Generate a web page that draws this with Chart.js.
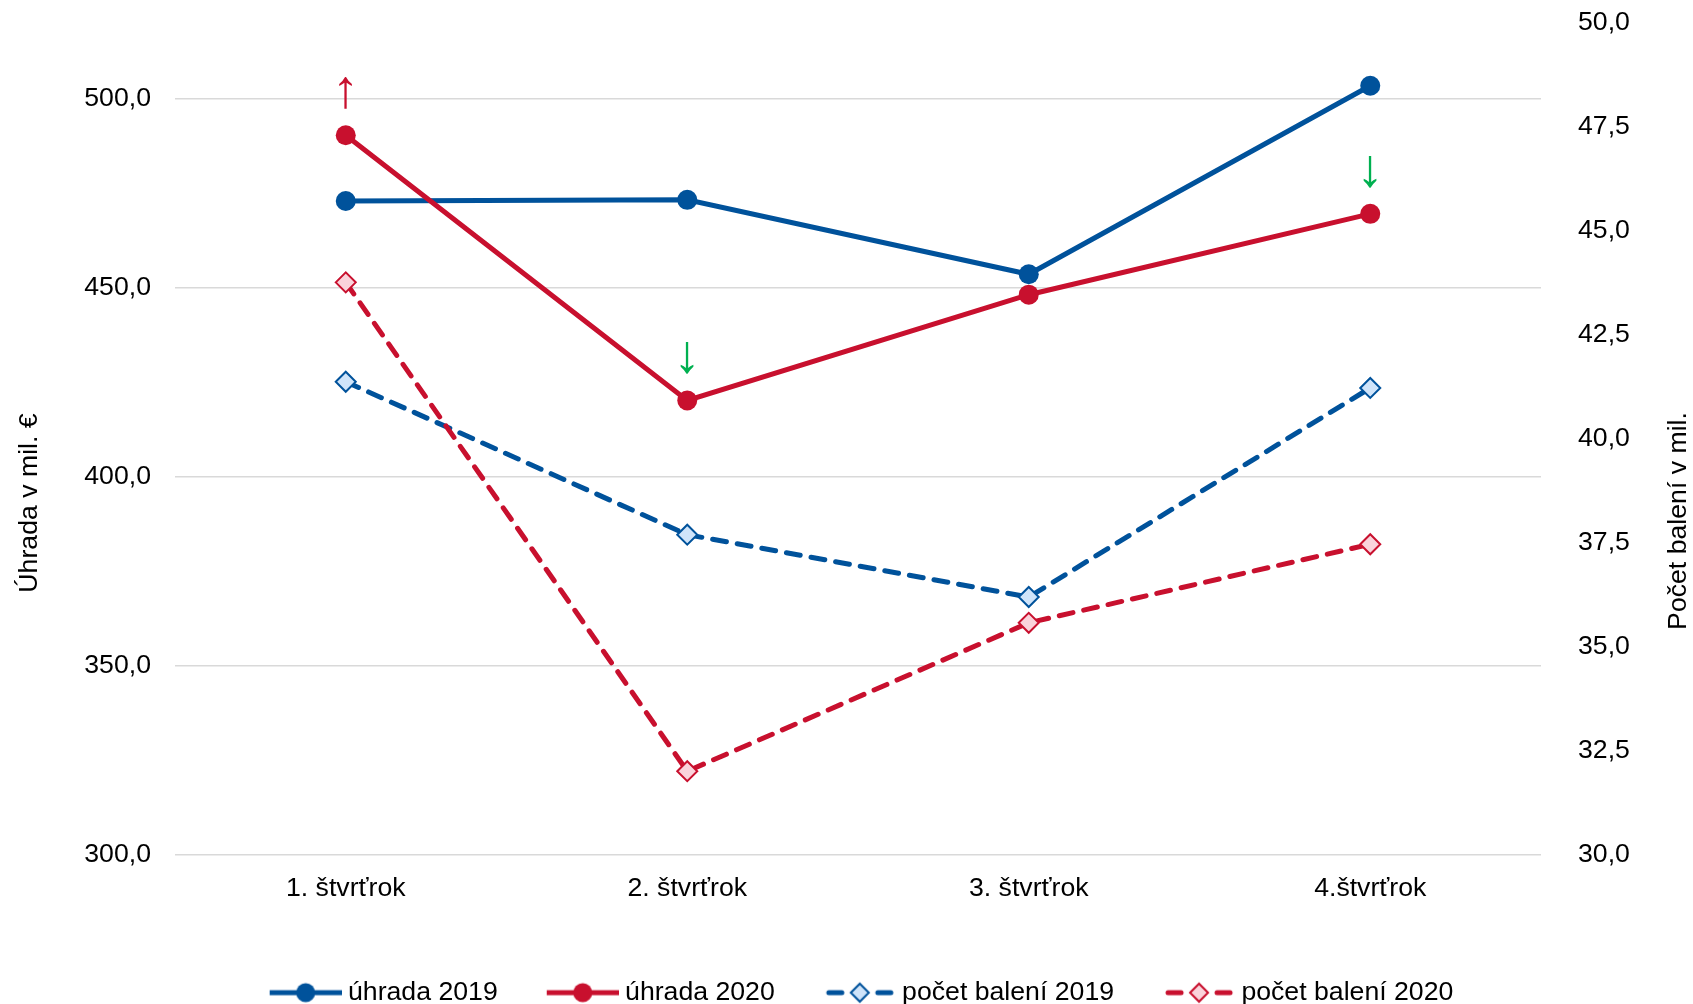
<!DOCTYPE html>
<html>
<head>
<meta charset="utf-8">
<script src="https://cdn.jsdelivr.net/npm/chart.js@4/dist/chart.umd.min.js"></script>
<style>
  html, body { margin: 0; padding: 0; background: #ffffff; }
  #wrap { position: relative; width: 1693px; height: 1004px; }
</style>
</head>
<body>
<div id="wrap"><canvas id="c" width="1693" height="1004"></canvas></div>
<script>
// ---- data ----
const categories = ['1. štvrťrok', '2. štvrťrok', '3. štvrťrok', '4.štvrťrok'];
const seriesNames = ['úhrada 2019', 'úhrada 2020', 'počet balení 2019', 'počet balení 2020'];
const uhrada2019 = [472.9, 473.2, 453.5, 503.4];
const uhrada2020 = [490.3, 420.1, 448.1, 469.5];
const pocet2019 = [41.37, 37.69, 36.19, 41.22];
const pocet2020 = [43.76, 32.0, 35.57, 37.46];
const leftAxisTitle = 'Úhrada v mil. €';
const rightAxisTitle = 'Počet balení v mil.';
const leftMin = 300, leftMax = 520, leftStep = 50;
const rightMin = 30, rightMax = 50, rightStep = 2.5;
// change arrows placed above the "úhrada 2020" points
const arrowIndices = [0, 1, 3];
const arrowSymbols = ['↑', '↓', '↓'];
const arrowKinds = ['up', 'down', 'down'];

// ---- styles ----
const BLUE = '#00529b';
const RED = '#c8102e';
const BLUE_LIGHT = '#cfe4fa';
const RED_LIGHT = '#fad3db';
const GREEN = '#00b050';
const FONT = '"Liberation Sans", Arial, sans-serif';
const FS = 26.67;
const ICON_BOX = 95;

function makeIcon(color, fill, dashed) {
  const c = document.createElement('canvas');
  c.width = ICON_BOX + 14; c.height = 28;
  const g = c.getContext('2d');
  const x0 = c.width - 72;
  const cx = x0 + 36, cy = 14;
  g.strokeStyle = color;
  g.lineWidth = 5;
  if (!dashed) {
    g.beginPath(); g.moveTo(x0, cy); g.lineTo(x0 + 72, cy); g.stroke();
    g.fillStyle = color;
    g.beginPath(); g.arc(cx, cy, 9.5, 0, Math.PI * 2); g.fill();
  } else {
    g.lineCap = 'round';
    g.beginPath(); g.moveTo(x0 + 5, cy); g.lineTo(x0 + 18, cy); g.stroke();
    g.beginPath(); g.moveTo(x0 + 54, cy); g.lineTo(x0 + 67, cy); g.stroke();
    g.fillStyle = fill;
    g.lineWidth = 2;
    g.beginPath();
    g.moveTo(cx - 9, cy); g.lineTo(cx, cy - 9); g.lineTo(cx + 9, cy); g.lineTo(cx, cy + 9); g.closePath();
    g.fill(); g.stroke();
  }
  return c;
}
const legendIcons = [
  makeIcon(BLUE, null, false),
  makeIcon(RED, null, false),
  makeIcon(BLUE, BLUE_LIGHT, true),
  makeIcon(RED, RED_LIGHT, true)
];

const fmt = v => Number(v).toFixed(1).replace('.', ',');

const extrasPlugin = {
  id: 'extras',
  afterDatasetsDraw(chart) {
    const ctx = chart.ctx;
    const meta = chart.getDatasetMeta(1);
    ctx.save();
    ctx.font = '54px ' + FONT;
    ctx.textAlign = 'center';
    ctx.textBaseline = 'middle';
    arrowIndices.forEach((idx, k) => {
      const el = meta.data[idx];
      ctx.fillStyle = arrowKinds[k] === 'up' ? RED : GREEN;
      ctx.fillText(arrowSymbols[k], el.x, el.y - 43);
    });
    ctx.restore();
  },
  afterDraw(chart) {
    const ctx = chart.ctx;
    ctx.save();
    ctx.font = FS + 'px ' + FONT;
    ctx.fillStyle = '#000000';
    ctx.textAlign = 'center';
    ctx.textBaseline = 'middle';
    ctx.translate(30, 503);
    ctx.rotate(-Math.PI / 2);
    ctx.fillText(leftAxisTitle, 0, 0);
    ctx.restore();
    ctx.save();
    ctx.font = FS + 'px ' + FONT;
    ctx.fillStyle = '#000000';
    ctx.textAlign = 'center';
    ctx.textBaseline = 'middle';
    ctx.translate(chart.width - 14, 521);
    ctx.rotate(-Math.PI / 2);
    ctx.fillText(rightAxisTitle, 0, 0);
    ctx.restore();
  }
};

new Chart(document.getElementById('c'), {
  type: 'line',
  data: {
    labels: categories,
    datasets: [
      {
        label: seriesNames[0], data: uhrada2019, yAxisID: 'y',
        borderColor: BLUE, backgroundColor: BLUE, borderWidth: 5,
        pointStyle: 'circle', pointRadius: 10, pointBackgroundColor: BLUE, pointBorderColor: BLUE, pointBorderWidth: 0,
        tension: 0, order: 1
      },
      {
        label: seriesNames[1], data: uhrada2020, yAxisID: 'y',
        borderColor: RED, backgroundColor: RED, borderWidth: 5,
        pointStyle: 'circle', pointRadius: 10, pointBackgroundColor: RED, pointBorderColor: RED, pointBorderWidth: 0,
        tension: 0, order: 0
      },
      {
        label: seriesNames[2], data: pocet2019, yAxisID: 'y1',
        borderColor: BLUE, backgroundColor: BLUE_LIGHT, borderWidth: 5,
        borderDash: [14, 11], borderCapStyle: 'round',
        pointStyle: 'rectRot', pointRadius: 10, pointBackgroundColor: BLUE_LIGHT, pointBorderColor: BLUE, pointBorderWidth: 2,
        tension: 0, order: 3
      },
      {
        label: seriesNames[3], data: pocet2020, yAxisID: 'y1',
        borderColor: RED, backgroundColor: RED_LIGHT, borderWidth: 5,
        borderDash: [14, 11], borderCapStyle: 'round',
        pointStyle: 'rectRot', pointRadius: 10, pointBackgroundColor: RED_LIGHT, pointBorderColor: RED, pointBorderWidth: 2,
        tension: 0, order: 2
      }
    ]
  },
  options: {
    responsive: false,
    animation: false,
    devicePixelRatio: 1,
    layout: { padding: { top: 0, bottom: -12, left: 0, right: 0 } },
    plugins: {
      tooltip: { enabled: false },
      legend: {
        display: true,
        position: 'bottom',
        fullSize: true,
        labels: {
          usePointStyle: true,
          pointStyleWidth: ICON_BOX,
          padding: 19,
          color: '#000000',
          font: { family: FONT, size: FS },
          generateLabels: (chart) => chart.data.datasets.map((ds, i) => ({
            text: ds.label,
            pointStyle: legendIcons[i],
            fillStyle: 'rgba(0,0,0,0)',
            strokeStyle: 'rgba(0,0,0,0)',
            lineWidth: 0,
            hidden: !chart.isDatasetVisible(i),
            datasetIndex: i,
            fontColor: '#000000'
          }))
        }
      }
    },
    scales: {
      x: {
        grid: { display: false },
        border: { display: false },
        offset: true,
        ticks: { color: '#000000', font: { family: FONT, size: FS }, padding: 10, maxRotation: 0 },
        afterFit: (s) => { s.height = 106; }
      },
      y: {
        position: 'left',
        min: leftMin, max: leftMax,
        grid: { color: '#d9d9d9', lineWidth: 1.5, drawTicks: false },
        border: { display: false },
        ticks: { stepSize: leftStep, includeBounds: false, color: '#000000', font: { family: FONT, size: FS }, padding: 24, callback: v => fmt(v) },
        afterFit: (s) => { s.width = 175; s.paddingTop = 23; s.paddingBottom = 16; }
      },
      y1: {
        position: 'right',
        min: rightMin, max: rightMax,
        grid: { display: false, drawTicks: false },
        border: { display: false },
        ticks: { stepSize: rightStep, color: '#000000', font: { family: FONT, size: FS }, padding: 37, callback: v => fmt(v) },
        afterFit: (s) => { s.width = 152; s.paddingTop = 23; s.paddingBottom = 16; }
      }
    }
  },
  plugins: [extrasPlugin]
});
</script>
</body>
</html>
